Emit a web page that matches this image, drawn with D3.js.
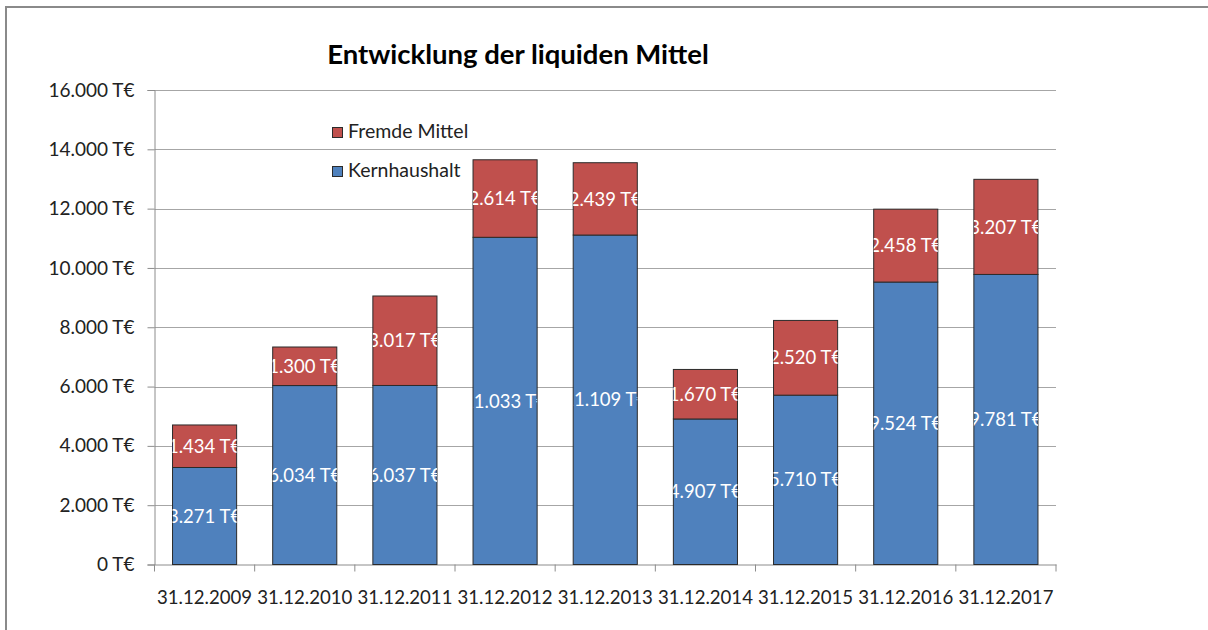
<!DOCTYPE html>
<html>
<head>
<meta charset="utf-8">
<script src="https://cdn.jsdelivr.net/npm/d3@7"></script>
<style>
  html, body { margin: 0; padding: 0; background: #fff; }
  svg { display: block; font-family: Lato, "Open Sans", sans-serif; }
</style>
</head>
<body>
<svg id="chart" width="1208" height="630"></svg>
<script>
const title = "Entwicklung der liquiden Mittel";
const categories = ["31.12.2009","31.12.2010","31.12.2011","31.12.2012","31.12.2013","31.12.2014","31.12.2015","31.12.2016","31.12.2017"];
const kernhaushalt = [3271, 6034, 6037, 11033, 11109, 4907, 5710, 9524, 9781];
const fremdeMittel = [1434, 1300, 3017, 2614, 2439, 1670, 2520, 2458, 3207];
const seriesNames = ["Kernhaushalt", "Fremde Mittel"];
const seriesColors = ["#4F81BD", "#C0504D"];
const yTicks = [0, 2000, 4000, 6000, 8000, 10000, 12000, 14000, 16000];

const fmt = v => d3.format(",")(v).replace(/,/g, ".") + " T€";

const svg = d3.select("#chart");
const W = 1208, H = 630;
const margin = {left: 154.5, right: 152, top: 90, bottom: 65.5};
const plotW = W - margin.left - margin.right;
const plotH = H - margin.top - margin.bottom;

// outer frame
svg.append("rect").attr("x", 6).attr("y", 7).attr("width", 1400).attr("height", 1000)
  .attr("fill", "none").attr("stroke", "#8a8a8a").attr("stroke-width", 2);

const g = svg.append("g").attr("transform", `translate(${margin.left},${margin.top})`);

const x = d3.scaleBand().domain(categories).range([0, plotW]).paddingInner(0.36).paddingOuter(0.18);
const xb = d3.scaleBand().domain(categories).range([0, plotW]);
const y = d3.scaleLinear().domain([0, 16000]).range([plotH, 0]);

// gridlines
g.append("g").selectAll("line").data(yTicks.filter(d => d > 0)).join("line")
  .attr("x1", 0).attr("x2", plotW)
  .attr("y1", d => Math.round(y(d)) + 0.5).attr("y2", d => Math.round(y(d)) + 0.5)
  .attr("stroke", "#a6a6a6").attr("stroke-width", 1);

// y axis
const yAxis = d3.axisLeft(y).tickValues(yTicks).tickFormat(fmt).tickSize(7).tickPadding(13);
const ya = g.append("g").call(yAxis);
ya.select(".domain").attr("stroke", "#8c8c8c");
ya.selectAll(".tick line").attr("stroke", "#8c8c8c");
ya.selectAll("text").attr("font-size", 19).attr("fill", "#222").attr("font-family", "Lato");

// x axis
const xa = g.append("g").attr("transform", `translate(0,${plotH})`)
  .call(d3.axisBottom(xb).tickSize(0).tickPadding(26));
xa.select(".domain").attr("stroke", "#8c8c8c");
xa.selectAll("text").attr("font-size", 18.6).attr("fill", "#222").attr("font-family", "Lato");
// boundary ticks
const bounds = categories.map(c => xb(c)).concat([plotW]);
xa.append("g").selectAll("line").data(bounds).join("line")
  .attr("x1", d => d).attr("x2", d => d).attr("y1", 0).attr("y2", 7)
  .attr("stroke", "#8c8c8c");

// stacked data
const rows = categories.map((c, i) => ({cat: c, Kernhaushalt: kernhaushalt[i], "Fremde Mittel": fremdeMittel[i]}));
const stack = d3.stack().keys(seriesNames)(rows);

const defs = svg.append("defs");
stack.forEach((layer, li) => {
  const lg = g.append("g");
  layer.forEach((d, i) => {
    const bx = x(d.data.cat), by = y(d[1]), bh = y(d[0]) - y(d[1]), bw = x.bandwidth();
    const id = `clip-${li}-${i}`;
    defs.append("clipPath").attr("id", id)
      .append("rect").attr("x", bx + margin.left).attr("y", by + margin.top).attr("width", bw).attr("height", bh);
    lg.append("rect").attr("x", bx).attr("y", by).attr("width", bw).attr("height", bh)
      .attr("fill", seriesColors[li]).attr("stroke", "#2b2b2b").attr("stroke-width", 1);
    svg.append("text")
      .attr("clip-path", `url(#${id})`)
      .attr("x", bx + bw / 2 + margin.left).attr("y", (by + bh / 2) + margin.top)
      .attr("dy", "0.36em").attr("text-anchor", "middle")
      .attr("font-size", 18.5).attr("fill", "#fff")
      .text(fmt(d[1] - d[0]));
  });
});

// title
svg.append("text").attr("x", 518).attr("y", 64).attr("text-anchor", "middle")
  .attr("font-size", 27.5).attr("font-weight", "bold").attr("fill", "#000").text(title);

// legend
const legendItems = [{name: "Fremde Mittel", color: seriesColors[1]}, {name: "Kernhaushalt", color: seriesColors[0]}];
const lgd = svg.append("g");
legendItems.forEach((it, i) => {
  const ly = 127 + i * 39;
  lgd.append("rect").attr("x", 332.5).attr("y", ly + 0.5).attr("width", 10).attr("height", 10)
    .attr("fill", it.color).attr("stroke", "#2b2b2b").attr("stroke-width", 1);
  lgd.append("text").attr("x", 348).attr("y", ly + 11).attr("font-size", 19.5).attr("fill", "#222").text(it.name);
});
</script>
</body>
</html>
